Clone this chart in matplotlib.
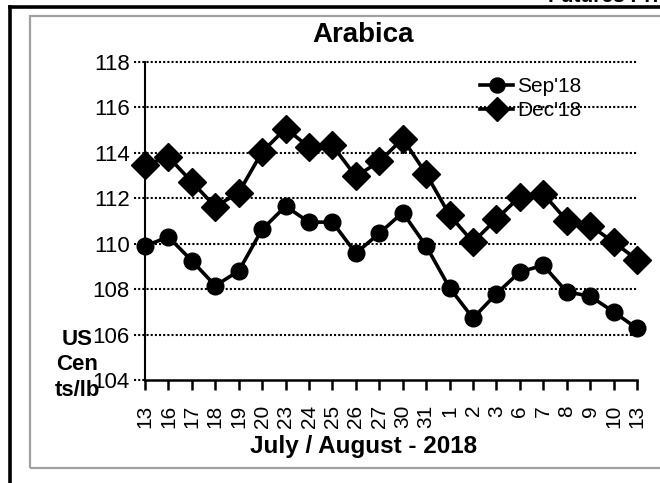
import matplotlib.pyplot as plt
from matplotlib.patches import Rectangle
from matplotlib.lines import Line2D

plt.rcParams['font.family'] = ['Liberation Sans', 'DejaVu Sans']

# data
days = ['13', '16', '17', '18', '19', '20', '23', '24', '25', '26', '27',
        '30', '31', '1', '2', '3', '6', '7', '8', '9', '10', '13']
sep18 = [109.9, 110.3, 109.25, 108.15, 108.8, 110.63, 111.65, 110.95, 110.95,
         109.58, 110.46, 111.37, 109.9, 108.06, 106.72, 107.8, 108.76, 109.05,
         107.88, 107.69, 107.0, 106.27]
dec18 = [113.46, 113.82, 112.72, 111.63, 112.25, 114.04, 115.07, 114.26, 114.33,
         112.96, 113.62, 114.62, 113.08, 111.26, 110.07, 111.09, 112.07, 112.2,
         111.02, 110.8, 110.07, 109.3]
yticks = [104, 106, 108, 110, 112, 114, 116, 118]

W, H = 660, 483
fig = plt.figure(figsize=(6.6, 4.83), dpi=100)

# frames
fig.add_artist(Line2D([10 / W, 10 / W], [0, 1 - 7 / H], color='black', lw=2.6))
fig.add_artist(Line2D([10 / W, 1], [1 - 7 / H, 1 - 7 / H], color='black', lw=2.6))
fig.add_artist(Rectangle((30 / W, 1 - 468 / H), 0.97, (468 - 16) / H,
                         fill=False, edgecolor='#a0a0a0', lw=1.6))
fig.text(548 / W, 1 - 2 / H, 'Futures Prices', fontsize=15, fontweight='bold',
         ha='left', va='baseline')

ax = fig.add_axes([145 / W, 1 - 380 / H, (637 - 145) / W, (380 - 62) / H])
x = list(range(len(days)))

# dotted grid that also stands in for the y ticks
for v in yticks[1:]:
    ax.plot([-0.45, len(days) - 1], [v, v], color='black', lw=1.5,
            linestyle=(0, (1, 1)), clip_on=False, zorder=1)
ax.plot([-0.45, 0], [yticks[0], yticks[0]], color='black', lw=1.5,
        linestyle=(0, (1, 1)), clip_on=False, zorder=1)

ax.plot(x, sep18, color='black', lw=2.6, marker='o', markersize=12,
        label="Sep'18", zorder=3, clip_on=False)
ax.plot(x, dec18, color='black', lw=2.6, marker='D', markersize=14,
        label="Dec'18", zorder=3, clip_on=False)

ax.set_xlim(0, len(days) - 1)
ax.set_ylim(yticks[0], yticks[-1])
ax.set_yticks(yticks)
ax.set_xticks(x)
ax.set_xticklabels(days, rotation=90, fontsize=15)
ax.tick_params(axis='y', length=0, pad=11, labelsize=16)
ax.tick_params(axis='x', length=7, width=1.8, pad=11, direction='out')
for s in ['top', 'right']:
    ax.spines[s].set_visible(False)
ax.spines['left'].set_linestyle((0, (1, 1)))
ax.spines['left'].set_linewidth(1.5)
ax.spines['bottom'].set_linewidth(1.8)

ax.legend(loc='upper left', bbox_to_anchor=((480 - 145) / (637 - 145), 1 - 15 / 318),
          frameon=False, fontsize=15, handlelength=1.6, handletextpad=0.2,
          labelspacing=0.25, borderpad=0, borderaxespad=0, markerscale=0.9)

fig.text(363 / W, 1 - 35 / H, 'Arabica', fontsize=20, fontweight='bold',
         ha='center', va='center')
fig.text(77 / W, 1 - 365 / H, 'US\nCen\nts/lb', fontsize=16, fontweight='bold',
         ha='center', va='center', multialignment='center', linespacing=1.3)
fig.text(364 / W, 1 - 447 / H, 'July / August - 2018', fontsize=17.5,
         fontweight='bold', ha='center', va='center')

plt.savefig('out.png', dpi=100)
